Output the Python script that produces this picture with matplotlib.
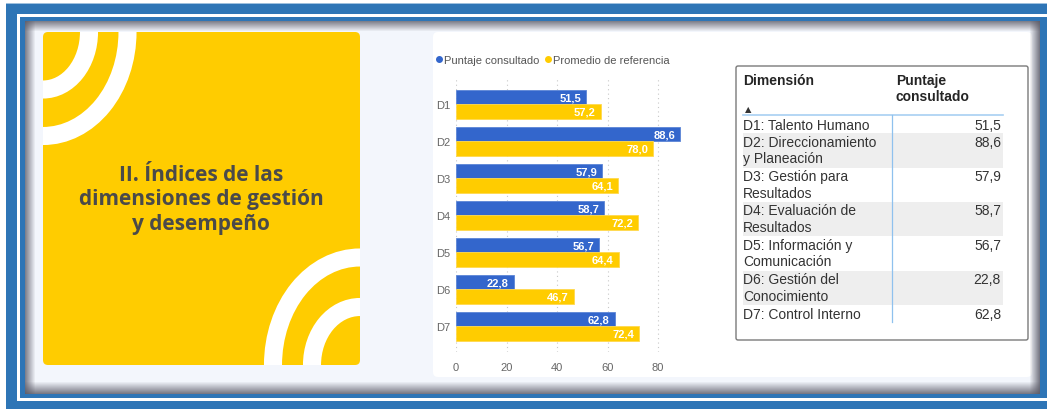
import matplotlib
matplotlib.use('Agg')
import matplotlib.pyplot as plt
from matplotlib.patches import Rectangle, FancyBboxPatch, Ellipse
from matplotlib.lines import Line2D
import numpy as np

# ---------------- data ----------------
categories = ['D1', 'D2', 'D3', 'D4', 'D5', 'D6', 'D7']
puntaje = [51.5, 88.6, 57.9, 58.7, 56.7, 22.8, 62.8]
promedio = [57.2, 78.0, 64.1, 72.2, 64.4, 46.7, 72.4]
x_ticks = [0, 20, 40, 60, 80]
series_names = ['Puntaje consultado', 'Promedio de referencia']
table_headers = ['Dimensión', 'Puntaje\nconsultado']
table_dims = ['D1: Talento Humano', 'D2: Direccionamiento\ny Planeación',
              'D3: Gestión para\nResultados', 'D4: Evaluación de\nResultados',
              'D5: Información y\nComunicación', 'D6: Gestión del\nConocimiento',
              'D7: Control Interno']
table_vals = puntaje
title_text = 'II. Índices de las\ndimensiones de gestión\ny desempeño'

# ---------------- styles ----------------
W, H = 1047, 410
BLUE = '#3366CC'
YELLOW = '#FFCC00'
FRAME = '#2E75B6'
PANEL = '#F3F6FC'
plt.rcParams['font.family'] = ['Liberation Sans', 'DejaVu Sans']

def fmt(v):
    return f'{v:.1f}'.replace('.', ',')

fig = plt.figure(figsize=(W / 100, H / 100), dpi=100)
fig.patch.set_facecolor('white')
bg = fig.add_axes([0, 0, 1, 1])
bg.set_xlim(0, W)
bg.set_ylim(H, 0)
bg.axis('off')

# frame
bg.add_patch(Rectangle((6, 4), W, H, color=FRAME, lw=0))
bg.add_patch(Rectangle((6, 3.5), W, 1.2, color='#9EC0DE', lw=0))
bg.add_patch(Rectangle((17, 15), W + 20, 387, color='white', lw=0))
bg.add_patch(Rectangle((20, 18), W + 20, 381, color=FRAME, lw=0))
bg.add_patch(Rectangle((25, 22), 1015, 373, color=PANEL, lw=0))
bg.add_patch(FancyBboxPatch((433, 33), 599, 345, boxstyle='round,pad=0,rounding_size=5',
                            facecolor='white', edgecolor='none'))

# shadows
SH = (0.35, 0.35, 0.4)
def shadow_h(y0, y1, x0, x1, a0, a1):
    n = int(round(y1 - y0))
    for i in range(n):
        a = a0 + (a1 - a0) * i / max(n - 1, 1)
        bg.add_patch(Rectangle((x0, y0 + i), x1 - x0, 1, color=SH, alpha=a, lw=0))
def shadow_v(x0, x1, y0, y1, a0, a1):
    n = int(round(x1 - x0))
    for i in range(n):
        a = a0 + (a1 - a0) * i / max(n - 1, 1)
        bg.add_patch(Rectangle((x0 + i, y0), 1, y1 - y0, color=SH, alpha=a, lw=0))
shadow_h(22, 33, 25, 1040, 0.75, 0.0)
shadow_v(25, 36, 22, 395, 0.75, 0.0)
shadow_h(382, 395, 25, 1040, 0.0, 0.8)
shadow_v(1029, 1040, 22, 395, 0.0, 0.8)

# yellow card
card = FancyBboxPatch((43, 33), 317, 333, boxstyle='round,pad=0,rounding_size=5',
                      facecolor=YELLOW, edgecolor='none')
bg.add_patch(card)
for (cx, cy, a, b) in [(43, 33, 46, 57.5), (43, 33, 84.5, 104),
                       (360, 366, 48, 58), (360, 366, 87, 107.5)]:
    e = Ellipse((cx, cy), 2 * a, 2 * b, fill=False, edgecolor='white', lw=13)
    bg.add_patch(e)
    e.set_clip_path(card)
bg.text(201, 200, title_text, ha='center', va='center', fontsize=15,
        fontweight='bold', color='#4A4A4A', family=['Open Sans', 'DejaVu Sans'],
        linespacing=1.2)

# ---------------- bar chart ----------------
ax = fig.add_axes([456 / W, 1 - 353 / H, 240 / W, 275 / H])
ax.set_facecolor('none')
y = np.arange(len(categories))
h = 0.39
b1 = ax.barh(y - h / 2, puntaje, height=h, color=BLUE, edgecolor='#5C85D6', lw=0.6)
b2 = ax.barh(y + h / 2, promedio, height=h, color=YELLOW, edgecolor='#FFD94D', lw=0.6)
for bars, vals in ((b1, puntaje), (b2, promedio)):
    for bar, v in zip(bars, vals):
        ax.annotate(fmt(v), xy=(v, bar.get_y() + bar.get_height() / 2),
                    xytext=(-3.5, 0), textcoords='offset points', ha='right',
                    va='center', color='white', fontsize=8, fontweight='bold')
ax.set_xlim(0, 95)
ax.set_ylim(6.69, -0.743)
ax.set_xticks(x_ticks)
ax.set_xticklabels([str(t) for t in x_ticks])
ax.set_yticks(y)
ax.set_yticklabels(categories)
ax.xaxis.grid(True, linestyle=(0, (1, 3)), color='#C8C8C8', lw=0.8)
ax.set_axisbelow(True)
for s in ax.spines.values():
    s.set_visible(False)
ax.tick_params(length=0, labelsize=8, colors='#666666')
ax.tick_params(axis='y', pad=4)
ax.tick_params(axis='x', pad=7)

handles = [Line2D([], [], marker='o', ls='none', color=BLUE, ms=4),
           Line2D([], [], marker='o', ls='none', color=YELLOW, ms=4)]
fig.legend(handles, series_names, loc='center left',
           bbox_to_anchor=(435 / W, 1 - 61 / H), bbox_transform=fig.transFigure,
           ncol=2, frameon=False, handletextpad=0.05, columnspacing=0.3,
           handlelength=0.8, fontsize=8, borderpad=0, borderaxespad=0,
           labelcolor='#555555')

# ---------------- table ----------------
bg.add_patch(FancyBboxPatch((736, 67), 292, 274, boxstyle='round,pad=0,rounding_size=2',
                            facecolor='white', edgecolor='#7A7A7A', lw=1))
bg.text(743, 81, table_headers[0], ha='left', va='center', fontsize=10,
        fontweight='bold', color='#252525')
bg.text(896, 89, table_headers[1], ha='left', va='center', fontsize=10,
        fontweight='bold', color='#252525', linespacing=1.15)
bg.text(748, 110, '▲', ha='center', va='center', fontsize=6, color='#333333',
        family='DejaVu Sans')
line_h = 17.2
top = 117
for i, (d, v) in enumerate(zip(table_dims, table_vals)):
    n = d.count('\n') + 1
    rh = n * line_h
    if i % 2 == 1:
        bg.add_patch(Rectangle((743, top), 260, rh, color='#EEEEEE', lw=0))
    bg.text(743, top + 1.5, d, ha='left', va='top', fontsize=10,
            color='#333333', linespacing=1.22)
    bg.text(1001, top + 1.5, fmt(v), ha='right', va='top', fontsize=10,
            color='#333333')
    top += rh
bg.plot([743, 1003], [116, 116], color='#A8CFF2', lw=1.2)
bg.plot([892, 892], [116, top], color='#8FC1EE', lw=0.9)

fig.savefig('out.png', dpi=100)
